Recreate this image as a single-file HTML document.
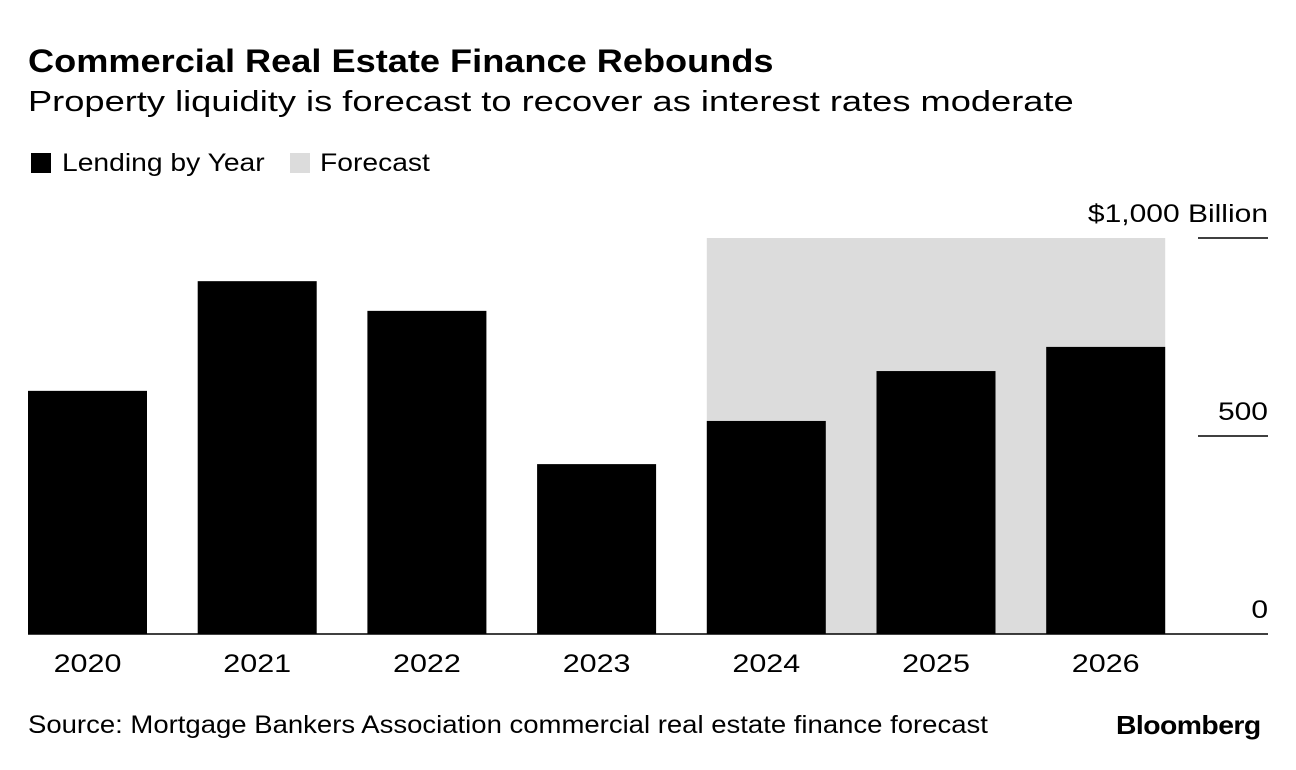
<!DOCTYPE html>
<html><head><meta charset="utf-8"><style>
body{margin:0;background:#fff;font-family:"Liberation Sans",sans-serif;}
#wrap{position:relative;width:1296px;height:770px;overflow:hidden;}
.t{position:absolute;white-space:nowrap;color:#000;transform-origin:0 50%;}
</style></head><body>
<div id="wrap">
<div class="t" style="left:28px;top:43px;font-size:32px;font-weight:bold;transform:scaleX(1.13);">Commercial Real Estate Finance Rebounds</div>
<div class="t" style="left:28px;top:86px;font-size:29px;transform:scaleX(1.25);">Property liquidity is forecast to recover as interest rates moderate</div>
<div style="position:absolute;left:31px;top:153px;width:20px;height:20px;background:#000;"></div>
<div class="t" style="left:62px;top:149px;font-size:25px;transform:scaleX(1.13);">Lending by Year</div>
<div style="position:absolute;left:290px;top:153px;width:20px;height:20px;background:#dcdcdc;"></div>
<div class="t" style="left:320px;top:149px;font-size:25px;transform:scaleX(1.13);">Forecast</div>
<svg id="chart" width="1296" height="770" style="position:absolute;left:0;top:0;"></svg>
<div class="t" style="left:28px;top:711px;font-size:25px;transform:scaleX(1.1);">Source: Mortgage Bankers Association commercial real estate finance forecast</div>
<div class="t" style="left:1116px;top:710px;font-size:26px;font-weight:bold;letter-spacing:-0.5px;transform:scaleX(1.09);">Bloomberg</div>
</div>
<script>
const years=["2020","2021","2022","2023","2024","2025","2026"];
const lending=[614,891,816,429,538,664,725];
const ticks=[0,500,1000];
const tickLabels=["0","500","$1,000 Billion"];
const forecastStart="2024";
const NS="http://www.w3.org/2000/svg";
const svg=document.getElementById('chart');
const y0=634,pxPer=0.396;
const y=v=>y0-v*pxPer;
const x0=28,step=169.7,bw=119;
const xb=i=>x0+i*step;
function el(t,a){const e=document.createElementNS(NS,t);for(const k in a)e.setAttribute(k,a[k]);svg.appendChild(e);return e;}
const fi=years.indexOf(forecastStart);
const fr=el('rect',{x:xb(fi),y:y(1000),width:xb(years.length-1)+bw-xb(fi),height:y0-y(1000),fill:'#dcdcdc'});


ticks.forEach((t,i)=>{
  if(t>0){const l=el('line',{x1:1198,x2:1268,y1:y(t),y2:y(t),stroke:'#000','stroke-width':1.5});
  
  }
  const tx=el('text',{transform:'translate(1268,'+(y(t)-16)+') scale(1.2,1)','text-anchor':'end','font-size':25,'font-family':'Liberation Sans'});
  tx.textContent=tickLabels[i];
  
  
});
lending.forEach((v,i)=>{
  const r=el('rect',{x:xb(i),y:y(v),width:bw,height:y0-y(v),fill:'#000'});
  
  
  const tx=el('text',{transform:'translate('+(xb(i)+bw/2)+',672) scale(1.22,1)','text-anchor':'middle','font-size':25,'font-family':'Liberation Sans'});
  tx.textContent=years[i];
  
  
});
const base=el('line',{x1:28,x2:1268,y1:y0,y2:y0,stroke:'#000','stroke-width':1.5});


</script>
</body></html>
